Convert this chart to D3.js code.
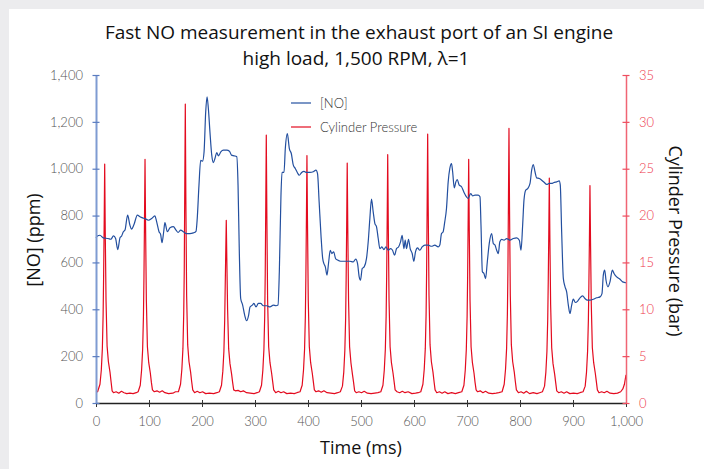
<!DOCTYPE html>
<html>
<head>
<meta charset="utf-8">
<script src="https://cdn.jsdelivr.net/npm/d3@7"></script>
<style>
  html, body { margin: 0; padding: 0; background: #ececee; }
  svg { display: block; }
  text { font-family: Lato, "Open Sans", sans-serif; }
  .big { font-family: "Open Sans", Lato, sans-serif; }
</style>
</head>
<body>
<svg width="704" height="469"></svg>
<script>
// tick values
var timeTicks = [0, 100, 200, 300, 400, 500, 600, 700, 800, 900, 1000];
var noTicks = [0, 200, 400, 600, 800, 1000, 1200, 1400];
var pressureTicks = [0, 5, 10, 15, 20, 25, 30, 35];

// [time ms, NO ppm]
var noTrace = [
  [0, 705], [2, 712], [7.5, 716], [13.8, 705], [23, 702], [28, 699], [33, 713], [37, 702],
  [41, 655], [45.3, 705], [48.4, 713], [51.6, 731], [54.7, 738], [59.7, 802], [64, 759],
  [67, 742], [71.7, 762], [78, 802], [83, 795], [88, 790], [92.4, 787], [98.7, 780],
  [105, 787], [111, 799], [114.5, 773], [118.9, 731], [122, 719], [124.5, 684], [127.7, 731],
  [130, 770], [134.6, 731], [139.6, 748], [146, 753], [151, 738], [155, 728], [159.8, 738],
  [164.8, 731], [171, 723], [177, 723], [183.7, 726], [188.7, 733], [191, 787], [194.3, 930],
  [197.5, 1036], [201, 1032], [203.9, 1072], [207, 1243], [209.5, 1307], [212, 1257],
  [215, 1157], [218.4, 1058], [221.5, 1026], [224.7, 1046], [227.8, 1069], [231, 1055],
  [235.5, 1072], [240.5, 1079], [246.8, 1079], [251.8, 1075], [255.6, 1058], [260.6, 1055],
  [265.6, 1051], [268, 930], [270.4, 645], [273, 446], [276.7, 418], [280.5, 375], [284.3, 351],
  [288, 375], [290.6, 410], [295, 418], [298, 425], [301.9, 410], [306.3, 425], [310.7, 425],
  [315.7, 415], [322, 415], [328.3, 410], [334.6, 418], [339.6, 415], [343.4, 418],
  [345.9, 560], [349, 887], [351, 984], [354.7, 984], [357.2, 1086], [361, 1150], [364.8, 1086],
  [368.5, 1065], [372.3, 1015], [376, 1001], [379.8, 984], [383.6, 972], [388, 984],
  [392.4, 989], [397.4, 984], [403.6, 984], [409.9, 987], [415, 994], [418, 979], [421, 859],
  [424.5, 716], [427.7, 617], [430, 595], [432.7, 581], [435.8, 546], [439, 602], [442, 652],
  [445, 638], [448.4, 645], [452, 617], [455.8, 610], [461.5, 605], [469.6, 605], [479, 605],
  [485.4, 602], [490, 614], [493.5, 595], [496.6, 538], [499, 524], [502.3, 574], [506, 581],
  [510.4, 617], [513.6, 688], [516.7, 787], [519.8, 870], [523, 816], [526.2, 766], [529.3, 752],
  [532.5, 702], [535.6, 659], [539.4, 666], [543.2, 655], [547, 666], [551.4, 652], [555.8, 659],
  [559.5, 652], [563.3, 631], [567, 659], [570.8, 666], [574.6, 688], [577.7, 716], [580.9, 659],
  [583.4, 695], [585.9, 659], [589.7, 699], [592.8, 659], [596.6, 638], [599.7, 605], [602.8, 645],
  [606.6, 662], [611, 652], [615.4, 666], [620.4, 674], [626.7, 674], [633, 669], [639.3, 674],
  [645.6, 666], [648.7, 674], [651.9, 723], [655, 731], [658, 773], [661.3, 830], [664.5, 944],
  [667.6, 1001], [670.8, 1022], [672.9, 987], [676, 918], [679, 944], [681.5, 954], [685.3, 930],
  [689.7, 923], [694, 901], [699, 880], [702, 873], [706.9, 894], [710.7, 884], [715, 887],
  [721, 887], [724.5, 880], [726.4, 759], [729, 560], [732, 553], [735, 531], [738.3, 602],
  [742, 681], [746.5, 723], [749.6, 681], [752.8, 674], [756, 652], [759, 638], [762, 688],
  [765.4, 698], [769.8, 695], [774.8, 702], [781, 695], [787.4, 702], [793.7, 705], [798.7, 695],
  [801.9, 652], [805, 759], [807.5, 866], [810.7, 908], [814.5, 915], [818.9, 937], [822, 994],
  [825, 1018], [828.3, 987], [831.4, 961], [836.5, 958], [840.9, 951], [845.9, 941], [850.3, 933],
  [855.3, 937], [859.7, 937], [864, 941], [869, 944], [874, 948], [876, 930], [878.6, 731],
  [881.8, 531], [885, 496], [888, 474], [891.2, 418], [894.3, 382], [897.5, 418], [900.6, 443],
  [904.4, 429], [908.8, 435], [913.2, 449], [918.2, 457], [922.6, 446], [927, 439], [932, 439],
  [938.4, 443], [944.7, 449], [951, 453], [954.7, 467], [957.2, 546], [959.8, 567], [962.3, 524],
  [966, 496], [969.8, 517], [974.2, 567], [977.4, 553], [982.4, 538], [988.7, 528], [993.7, 517],
  [998.7, 514], [1000, 513]
];

// [time ms, pressure bar]
var pressureTrace = [
  [0, 1.15], [3, 1.2], [7.5, 2.0], [10, 3.5], [12, 5.8], [13.4, 9.3], [14.4, 13.6], [15.4, 19],
  [16.4, 25.5], [17.4, 18.5], [18.9, 11], [20.9, 6.1], [23.4, 4.4], [26.4, 3.3], [28.4, 2.3],
  [30.4, 1.3], [33, 1.1], [38, 1.2], [43, 1.05], [48, 1.25], [53, 1.1], [58, 1.0], [64, 1.05],
  [70, 1.0], [76, 1.1],
  [79.5, 1.2], [83.5, 1.9], [86, 3.5], [88, 5.7], [89.5, 9.2], [90.5, 13.5], [91.5, 19.5],
  [92.5, 26.0], [93.5, 19], [95, 11], [97, 6], [99.5, 4.3], [102.5, 3.2], [104.5, 2.2],
  [106.5, 1.4], [110, 1.2], [115, 1.3], [120, 1.15], [125, 1.3], [130, 1.1], [137, 1.0],
  [145, 1.05], [150, 1.2],
  [155.5, 1.2], [159.5, 2.0], [162, 3.6], [164, 5.8], [165.5, 9.5], [166.5, 14], [167.5, 23],
  [168.5, 31.9], [169.5, 22], [171, 11.5], [173, 6.2], [175.5, 4.4], [178.5, 3.3], [180.5, 2.3],
  [182.5, 1.4], [186, 1.1], [191, 1.25], [196, 1.1], [201, 1.2], [207, 1.0], [214, 1.05],
  [222, 1.0], [228, 1.1],
  [232.8, 1.2], [236.8, 1.9], [239.3, 3.4], [241.3, 5.5], [242.8, 8.8], [243.8, 12.5],
  [244.8, 16], [245.8, 19.5], [246.8, 15.5], [248.3, 10], [250.3, 5.8], [252.8, 4.2],
  [255.8, 3.1], [257.8, 2.2], [259.8, 1.4], [263, 1.3], [268, 1.35], [273, 1.2], [278, 1.3],
  [284, 1.1], [291, 1.05], [298, 1.0], [304, 1.1],
  [308.3, 1.2], [312.3, 1.9], [314.8, 3.5], [316.8, 5.7], [318.3, 9.2], [319.3, 13.8],
  [320.3, 21], [321.3, 28.6], [322.3, 20.5], [323.8, 11], [325.8, 6], [328.3, 4.3], [331.3, 3.2],
  [333.3, 2.3], [335.3, 1.4], [339, 1.1], [344, 1.25], [349, 1.1], [354, 1.2], [360, 1.0],
  [367, 1.05], [374, 1.0], [379, 1.1],
  [385, 1.2], [389, 1.9], [391.5, 3.5], [393.5, 5.7], [395, 9.2], [396, 13.5], [397, 19.5],
  [398, 26.4], [399, 19.5], [400.5, 11], [402.5, 6.0], [405, 4.3], [408, 3.2], [410, 2.3],
  [412, 1.4], [415, 1.2], [420, 1.3], [425, 1.15], [430, 1.3], [436, 1.1], [443, 1.05],
  [450, 1.0], [456, 1.1],
  [461, 1.2], [465, 1.8], [467.5, 3.3], [469.5, 5.6], [471, 9.0], [472, 13.3], [473, 19],
  [474, 25.6], [475, 19], [476.5, 11], [478.5, 6], [481, 4.3], [484, 3.0], [486, 2.2],
  [488, 1.3], [491, 1.1], [496, 1.2], [501, 1.1], [506, 1.25], [512, 1.05], [519, 1.0],
  [526, 1.05], [532, 1.1],
  [537.4, 1.2], [541.4, 1.9], [543.9, 3.5], [545.9, 5.7], [547.4, 9.2], [548.4, 13.5],
  [549.4, 19.5], [550.4, 26.5], [551.4, 19.5], [552.9, 11], [554.9, 6], [557.4, 4.3],
  [560.4, 3.2], [562.4, 2.3], [564.4, 1.4], [568, 1.2], [573, 1.1], [578, 1.25], [583, 1.1],
  [589, 1.2], [596, 1.0], [603, 1.05], [608, 1.1],
  [612.8, 1.2], [616.8, 2.0], [619.3, 3.6], [621.3, 5.8], [622.8, 9.4], [623.8, 14],
  [624.8, 21], [625.8, 28.7], [626.8, 21], [628.3, 11.5], [630.3, 6.2], [632.8, 4.4],
  [635.8, 3.3], [637.8, 2.3], [639.8, 1.4], [643, 1.1], [648, 1.2], [653, 1.05], [658, 1.2],
  [664, 1.0], [671, 1.1], [678, 1.0], [684, 1.1],
  [690.2, 1.2], [694.2, 1.9], [696.7, 3.5], [698.7, 5.7], [700.2, 9.2], [701.2, 13.5],
  [702.2, 19.5], [703.2, 26.0], [704.2, 19], [705.7, 11], [707.7, 6], [710.2, 4.3],
  [713.2, 3.2], [715.2, 2.2], [717.2, 1.4], [720, 1.2], [725, 1.3], [730, 1.1], [735, 1.25],
  [741, 1.05], [748, 1.0], [755, 1.05], [760, 1.1],
  [766.2, 1.2], [770.2, 2.0], [772.7, 3.6], [774.7, 5.8], [776.2, 9.5], [777.2, 14],
  [778.2, 21.5], [779.2, 29.3], [780.2, 21], [781.7, 11.5], [783.7, 6.2], [786.2, 4.4],
  [789.2, 3.3], [791.2, 2.3], [793.2, 1.4], [797, 1.1], [802, 1.2], [807, 1.05], [812, 1.25],
  [818, 1.0], [825, 1.1], [832, 1.0], [837, 1.1],
  [842.3, 1.2], [846.3, 1.8], [848.8, 3.3], [850.8, 5.5], [852.3, 8.9], [853.3, 13],
  [854.3, 18], [855.3, 24.0], [856.3, 18], [857.8, 10.5], [859.8, 5.9], [862.3, 4.2],
  [865.3, 3.1], [867.3, 2.2], [869.3, 1.3], [873, 1.1], [878, 1.2], [883, 1.05], [888, 1.2],
  [894, 1.0], [901, 1.05], [908, 1.0], [913, 1.1],
  [919, 1.2], [923, 1.8], [925.5, 3.3], [927.5, 5.5], [929, 8.8], [930, 12.8], [931, 17.5],
  [932, 23.2], [933, 17.5], [934.5, 10.5], [936.5, 5.9], [939, 4.3], [942, 3.2], [944, 2.3],
  [946, 1.4], [949, 1.1], [954, 1.2], [959, 1.1], [964, 1.25], [970, 1.05], [977, 1.0],
  [984, 1.05], [990, 1.2], [994, 1.5], [997, 2.0], [1000, 3.0]
];

var titleLines = ["Fast NO measurement in the exhaust port of an SI engine", "high load, 1,500 RPM, \u03bb=1"];
var seriesNames = ["[NO]", "Cylinder Pressure"];
var seriesColors = ["#234f9f", "#e30b1f"];

var svg = d3.select("svg");

// card background
svg.append("rect")
  .attr("x", 9).attr("y", 9)
  .attr("width", 704).attr("height", 480)
  .attr("fill", "#ffffff");

var xScale = d3.scaleLinear().domain([0, 1000]).range([96, 626]),
    yNo = d3.scaleLinear().domain([0, 1400]).range([403, 75]),
    yBar = d3.scaleLinear().domain([0, 35]).range([403, 75]);

// title, two lines
svg.selectAll(".title")
  .data(titleLines)
  .enter()
  .append("text")
  .attr("class", "big title")
  .attr("x", function (d, i) { return i ? 356 : 359; })
  .attr("y", function (d, i) { return i ? 64.8 : 38.5; })
  .attr("text-anchor", "middle")
  .style("font-size", "19px")
  .style("font-weight", 500)
  .style("fill", "#111")
  .text(function (d) { return d; });

// lines
var noLine = d3.line()
  .x(function (d) { return xScale(d[0]); })
  .y(function (d) { return yNo(d[1]); })
  .curve(d3.curveMonotoneX);
var barLine = d3.line()
  .x(function (d) { return xScale(d[0]); })
  .y(function (d) { return yBar(d[1]); });

svg.append("path")
  .datum(pressureTrace)
  .attr("d", barLine)
  .attr("fill", "none")
  .attr("stroke", seriesColors[1])
  .attr("stroke-width", 1.2)
  .attr("stroke-linejoin", "round");

svg.append("path")
  .datum(noTrace)
  .attr("d", noLine)
  .attr("fill", "none")
  .attr("stroke", seriesColors[0])
  .attr("stroke-width", 1.2);

// axes
var fmt = d3.format(",");

var gx = svg.append("g")
  .attr("transform", "translate(0,403)")
  .call(d3.axisBottom(xScale).tickValues(timeTicks).tickFormat(fmt).tickSizeOuter(0).tickPadding(8));
gx.select(".domain").attr("stroke", "#222").attr("stroke-width", 1.5);
gx.selectAll(".tick line").attr("y1", -3).attr("y2", 4).attr("stroke", "#333");
gx.selectAll(".tick text").style("font-size", "13px").style("fill", "#555").style("font-weight", 300);

var gl = svg.append("g")
  .attr("transform", "translate(96,0)")
  .call(d3.axisLeft(yNo).tickValues(noTicks).tickFormat(fmt).tickSizeOuter(0).tickPadding(7));
gl.select(".domain").attr("stroke", "#7f9bd2").attr("stroke-width", 2);
gl.selectAll(".tick line").attr("x1", -3.5).attr("x2", 3.5).attr("stroke", "#5a7cc0").attr("stroke-width", 1.2);
gl.selectAll(".tick text").style("font-size", "13px").style("fill", "#555").style("font-weight", 300);

var gr = svg.append("g")
  .attr("transform", "translate(626,0)")
  .call(d3.axisRight(yBar).tickValues(pressureTicks).tickSizeOuter(0).tickPadding(7));
gr.select(".domain").attr("stroke", "#f06574").attr("stroke-width", 1.5);
gr.selectAll(".tick line").attr("x1", -3.5).attr("x2", 3.5).attr("stroke", "#ee4d5e").attr("stroke-width", 1.2);
gr.selectAll(".tick text").style("font-size", "13px").style("fill", "#ee3a4c").style("font-weight", 300);

// axis titles
svg.append("text")
  .attr("class", "big")
  .attr("x", 361).attr("y", 454)
  .attr("text-anchor", "middle")
  .style("font-size", "18px")
  .style("font-weight", 500)
  .style("fill", "#111")
  .text("Time (ms)");

svg.append("text")
  .attr("class", "big")
  .attr("text-anchor", "middle")
  .attr("transform", "translate(40,240)rotate(-90)")
  .style("font-size", "18px")
  .style("font-weight", 500)
  .style("fill", "#111")
  .text("[NO] (ppm)");

svg.append("text")
  .attr("class", "big")
  .attr("text-anchor", "middle")
  .attr("transform", "translate(669,241)rotate(90)")
  .style("font-size", "18px")
  .style("font-weight", 500)
  .style("fill", "#111")
  .text("Cylinder Pressure (bar)");

// legend
var legend = svg.append("g").attr("transform", "translate(291,103)");
seriesNames.forEach(function (name, i) {
  legend.append("line")
    .attr("x1", 0).attr("x2", 20)
    .attr("y1", i * 24).attr("y2", i * 24)
    .attr("stroke", seriesColors[i])
    .attr("stroke-width", 1.2);
  legend.append("text")
    .attr("x", 29).attr("y", i * 24 + 4.5)
    .style("font-size", "13px")
    .style("fill", "#333")
    .style("font-weight", 300)
    .text(name);
});
</script>
</body>
</html>
